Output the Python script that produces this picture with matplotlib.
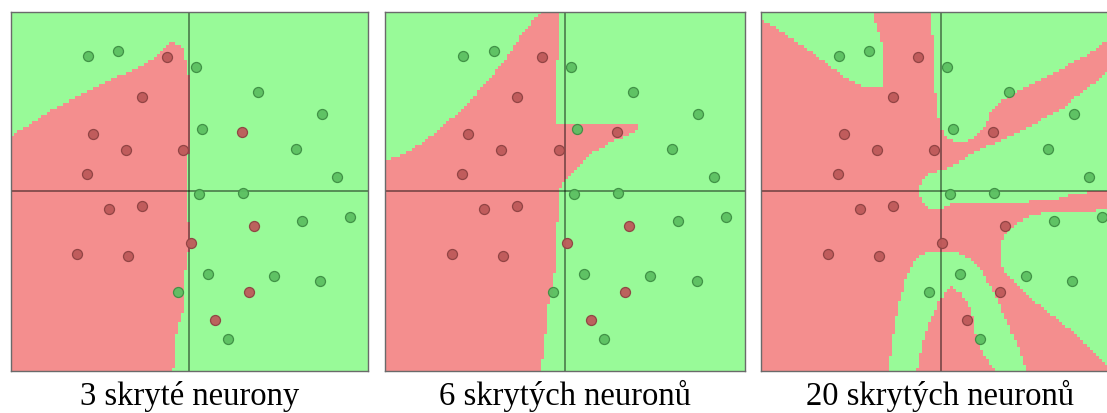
import numpy as np
import matplotlib
matplotlib.use("Agg")
import matplotlib.pyplot as plt
from matplotlib.path import Path
from matplotlib.colors import ListedColormap

# Training samples (same set in every panel)
green_x = [-0.567, -0.396, 0.035, 0.382, 0.741, 0.069, 0.599, 0.828, 0.052,
           0.299, 0.632, 0.897, 0.106, 0.476, 0.733, -0.063, 0.218]
green_y = [0.751, 0.779, 0.689, 0.552, 0.427, 0.347, 0.237, 0.079, -0.016,
           -0.008, -0.168, -0.146, -0.460, -0.473, -0.501, -0.561, -0.823]
red_x = [-0.125, -0.265, -0.539, 0.293, -0.356, -0.034, -0.573, -0.451,
         -0.267, 0.360, 0.011, -0.627, -0.345, 0.334, 0.146]
red_y = [0.747, 0.526, 0.317, 0.332, 0.228, 0.228, 0.094, -0.101,
         -0.083, -0.191, -0.286, -0.351, -0.360, -0.561, -0.715]

titles = ["3 skryté neurony", "6 skrytých neuronů", "20 skrytých neuronů"]

# Decision regions of the trained networks (outlines of the minority class)
net3_red = [(-1, 0.308), (-0.875, 0.382), (-0.763, 0.457), (-0.595, 0.540),
            (-0.446, 0.615), (-0.278, 0.689), (-0.185, 0.754), (-0.110, 0.833),
            (-0.045, 0.810), (-0.007, 0.643), (-0.007, 0.233), (-0.017, -0.008),
            (-0.012, -0.17), (0.006, -0.20), (0.006, -0.31), (-0.017, -0.343),
            (-0.035, -0.548), (-0.045, -0.715), (-0.073, -0.753),
            (-0.082, -0.883), (-0.095, -1.0), (-1, -1)]

net6_red = [(-1, 0.161), (-0.870, 0.216), (-0.740, 0.309), (-0.610, 0.421),
            (-0.499, 0.532), (-0.406, 0.643), (-0.314, 0.755), (-0.239, 0.866),
            (-0.165, 0.959), (-0.137, 1.0), (-0.026, 1.0), (-0.026, 0.736),
            (-0.045, 0.727), (-0.045, 0.365), (0.401, 0.365), (0.401, 0.337),
            (0.243, 0.263), (0.150, 0.207), (0.058, 0.123), (0.002, 0.058),
            (-0.035, 0.003), (-0.045, -0.229), (-0.054, -0.415),
            (-0.072, -0.564), (-0.091, -0.601), (-0.109, -0.786),
            (-0.137, -1.0), (-1, -1)]

net20_green_topleft = [(-1.0, 1.0), (-0.382, 1.0), (-0.354, 0.903), (-0.326, 0.810),
                       (-0.314, 0.699), (-0.314, 0.573), (-0.447, 0.584),
                       (-0.540, 0.634), (-0.633, 0.708), (-0.744, 0.792),
                       (-0.856, 0.866), (-0.949, 0.925), (-1.0, 0.955)]
net20_green_topright = [(-0.048, 1.0), (1.0, 1.0), (1.0, 0.886), (0.929, 0.838),
                        (0.797, 0.746), (0.611, 0.643), (0.426, 0.551),
                        (0.333, 0.495), (0.277, 0.430), (0.240, 0.347),
                        (0.165, 0.282), (0.091, 0.269), (0.036, 0.291),
                        (-0.002, 0.365), (-0.020, 0.476), (-0.030, 0.607),
                        (-0.039, 0.792)]
net20_green_middle = [(1.0, 0.741), (0.929, 0.671), (0.852, 0.597), (0.704, 0.476),
                      (0.574, 0.402), (0.426, 0.319), (0.277, 0.254),
                      (0.147, 0.189), (0.054, 0.134), (-0.057, 0.096),
                      (-0.104, 0.059), (-0.117, -0.006), (-0.104, -0.061),
                      (-0.057, -0.098), (0.0, -0.098), (0.072, -0.065),
                      (0.593, -0.058), (0.667, -0.039), (0.741, -0.015),
                      (0.929, 0.003), (1.0, 0.007)]
net20_green_lowright = [(1.0, -0.108), (0.929, -0.108), (0.630, -0.117),
                        (0.500, -0.136), (0.407, -0.191), (0.351, -0.256),
                        (0.333, -0.339), (0.342, -0.414), (0.388, -0.488),
                        (0.462, -0.562), (0.555, -0.637), (0.648, -0.711),
                        (0.741, -0.785), (0.816, -0.859), (0.890, -0.933),
                        (0.929, -0.971), (1.0, -1.0)]
net20_green_arch = [(-0.290, -1.0), (-0.262, -0.785), (-0.225, -0.599),
                    (-0.187, -0.470), (-0.150, -0.395), (-0.095, -0.349),
                    (-0.002, -0.331), (0.091, -0.339), (0.165, -0.377),
                    (0.221, -0.432), (0.277, -0.525), (0.333, -0.637),
                    (0.388, -0.766), (0.444, -0.896), (0.481, -1.0),
                    (0.305, -1.0), (0.258, -0.933), (0.221, -0.859),
                    (0.193, -0.785), (0.181, -0.711), (0.156, -0.637),
                    (0.119, -0.572), (0.064, -0.529), (0.026, -0.562),
                    (-0.011, -0.618), (-0.057, -0.729), (-0.104, -0.859),
                    (-0.131, -1.0)]

GREEN_BG = "#98FA98"
RED_BG = "#F48E8E"


def class_map(background, shapes, n=118):
    """Evaluate the class (0 = green, 1 = red) on an n x n grid of cells."""
    c = (np.arange(n) + 0.5) / n * 2 - 1
    gx, gy = np.meshgrid(c, c)
    pts = np.column_stack([gx.ravel(), gy.ravel()])
    grid = np.full(n * n, background)
    for shape in shapes:
        grid[Path(shape).contains_points(pts)] = 1 - background
    return grid.reshape(n, n)


panels = [
    (class_map(0, [net3_red]), (10.5, 368)),
    (class_map(0, [net6_red]), (385, 744.5)),
    (class_map(1, [net20_green_topleft, net20_green_topright,
                   net20_green_middle, net20_green_lowright,
                   net20_green_arch]), (761, 1120)),
]

W, H = 1107, 414
fig = plt.figure(figsize=(W / 100, H / 100), dpi=100)
cmap = ListedColormap([GREEN_BG, RED_BG])

for (grid, (x0, x1)), title in zip(panels, titles):
    top, bottom = 12.5, 372
    ax = fig.add_axes([x0 / W, (H - bottom) / H, (x1 - x0) / W, (bottom - top) / H])
    ax.imshow(grid, cmap=cmap, vmin=0, vmax=1, origin="lower",
              extent=(-1, 1, -1, 1), interpolation="nearest", aspect="auto")
    ax.axhline(0, color="black", alpha=0.55, lw=1.1, zorder=2)
    ax.axvline(0, color="black", alpha=0.55, lw=1.1, zorder=2)
    ax.scatter(green_x, green_y, s=52, c="#5CBF62", edgecolors="#3E8E44",
               linewidths=0.9, alpha=0.95, zorder=3)
    ax.scatter(red_x, red_y, s=52, c="#BE5A5A", edgecolors="#8E4242",
               linewidths=0.9, alpha=0.95, zorder=3)
    ax.set_xlim(-1, 1)
    ax.set_ylim(-1, 1)
    ax.set_xticks([])
    ax.set_yticks([])
    for sp in ax.spines.values():
        sp.set_color("#6A6A6A")
        sp.set_linewidth(1.0)
    cx = (x0 + min(x1, W + 13)) / 2
    fig.text(cx / W, (H - 405) / H, title, ha="center", va="baseline",
             fontsize=23.5, family="Liberation Serif", color="black")

fig.savefig("out.png", dpi=100)
